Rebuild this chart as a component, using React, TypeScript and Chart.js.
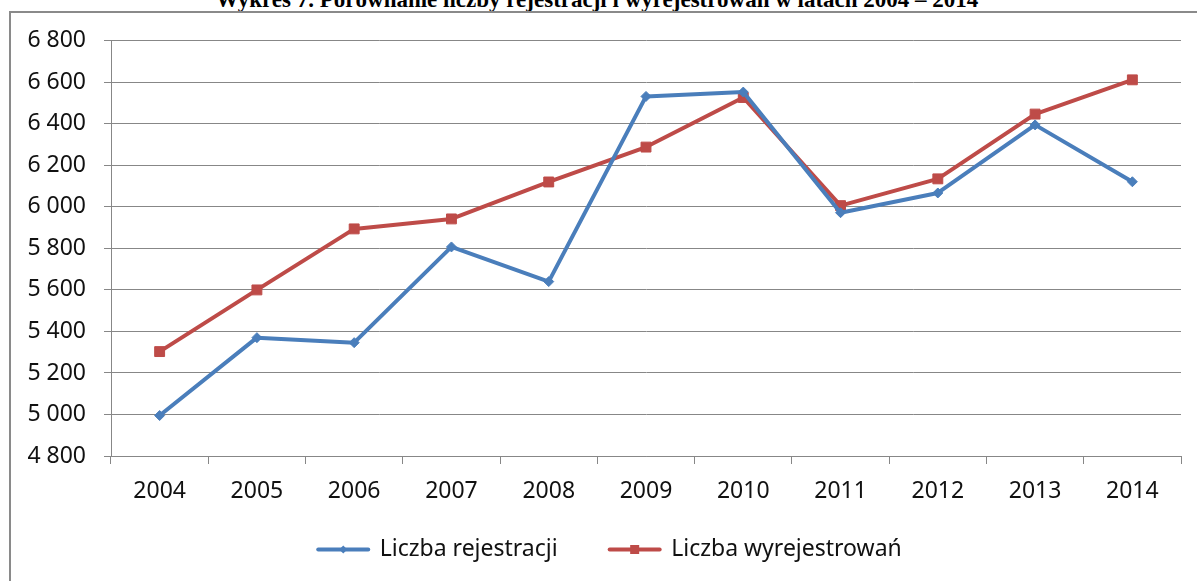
import React, { useEffect, useRef } from "react";
import { Chart, registerables } from "chart.js";

Chart.register(...registerables);

const years = ["2004", "2005", "2006", "2007", "2008", "2009", "2010", "2011", "2012", "2013", "2014"];
const rejestracje = [4995, 5370, 5346, 5807, 5640, 6532, 6553, 5972, 6067, 6395, 6121];
const wyrejestrowania = [5303, 5600, 5894, 5942, 6120, 6288, 6527, 6006, 6135, 6447, 6612];
const seriesNames = ["Liczba rejestracji", "Liczba wyrejestrowań"];
const titleText = "Wykres 7. Porównanie liczby rejestracji i wyrejestrowań w latach 2004 – 2014";

const BLUE = "#4a7ebb";
const RED = "#be4b48";
const GRID = "#878787";
const FONT = "'Noto Sans', 'Open Sans', sans-serif";

const fmt = (v: number) => {
  const s = String(Math.round(v));
  return s.replace(/\B(?=(\d{3})+(?!\d))/g, " ");
};

const legendMarkers = {
  id: "legendMarkers",
  afterDraw(chart: any) {
    const lg = chart.legend;
    if (!lg || !lg.legendHitBoxes) return;
    const ctx = chart.ctx;
    const bw = lg.options.labels.pointStyleWidth || 50;
    lg.legendHitBoxes.forEach((hb: any, i: number) => {
      const cx = hb.left + bw / 2;
      const cy = hb.top + hb.height / 2;
      ctx.save();
      if (i === 0) {
        ctx.fillStyle = BLUE;
        ctx.beginPath();
        ctx.moveTo(cx, cy - 4);
        ctx.lineTo(cx + 4, cy);
        ctx.lineTo(cx, cy + 4);
        ctx.lineTo(cx - 4, cy);
        ctx.closePath();
        ctx.fill();
      } else {
        ctx.fillStyle = RED;
        ctx.fillRect(cx - 4.5, cy - 4.5, 9, 9);
      }
      ctx.restore();
    });
  },
};

const noLabelClip = (s: any) => {
  s._computeLabelArea = () => undefined;
};

export default function App() {
  const ref = useRef<HTMLCanvasElement | null>(null);

  useEffect(() => {
    if (!ref.current) return;
    const chart = new Chart(ref.current, {
      type: "line",
      data: {
        labels: years,
        datasets: [
          {
            label: seriesNames[0],
            data: rejestracje,
            borderColor: BLUE,
            backgroundColor: BLUE,
            borderWidth: 4,
            borderCapStyle: "round",
            borderJoinStyle: "round",
            pointStyle: "rectRot",
            pointRadius: 5,
            pointBorderWidth: 1,
            pointBackgroundColor: BLUE,
            pointBorderColor: BLUE,
            tension: 0,
          },
          {
            label: seriesNames[1],
            data: wyrejestrowania,
            borderColor: RED,
            backgroundColor: RED,
            borderWidth: 4,
            borderCapStyle: "round",
            borderJoinStyle: "round",
            pointStyle: "rect",
            pointRadius: 7,
            pointBorderWidth: 1,
            pointBackgroundColor: RED,
            pointBorderColor: RED,
            tension: 0,
          },
        ],
      },
      options: {
        animation: false,
        responsive: false,
        maintainAspectRatio: false,
        layout: { padding: { left: 28, top: 25, right: 16, bottom: 0 } },
        plugins: {
          title: { display: false },
          tooltip: { enabled: false },
          legend: {
            position: "bottom",
            labels: {
              usePointStyle: true,
              pointStyle: "line",
              pointStyleWidth: 50,
              padding: 52,
              color: "#111",
              font: { family: FONT, size: 23 },
              generateLabels: (c: any) => {
                const items = Chart.defaults.plugins.legend.labels.generateLabels(c);
                return items.map((it: any, i: number) => ({
                  ...it,
                  lineWidth: 4,
                  lineCap: "round",
                  strokeStyle: i === 0 ? BLUE : RED,
                  fillStyle: i === 0 ? BLUE : RED,
                  pointStyle: "line",
                }));
              },
            },
          },
        },
        scales: {
          x: {
            offset: true,
            grid: {
              offset: true,
              drawOnChartArea: false,
              drawTicks: true,
              tickLength: 8,
              color: GRID,
            },
            border: { color: GRID, width: 1 },
            ticks: { color: "#111", padding: 14, font: { family: FONT, size: 23 }, maxRotation: 0 },
            afterFit: (s: any) => {
              s.height = 30;
              noLabelClip(s);
            },
          },
          y: {
            min: 4800,
            max: 6800,
            grid: { color: GRID, tickLength: 7, lineWidth: 1 },
            border: { color: GRID, width: 1 },
            ticks: {
              stepSize: 200,
              color: "#111",
              padding: 18,
              font: { family: FONT, size: 23 },
              callback: (v: any) => fmt(Number(v)),
            },
            afterFit: (s: any) => {
              s.width = 72;
              noLabelClip(s);
            },
          },
        },
      },
      plugins: [legendMarkers],
    });
    return () => chart.destroy();
  }, []);

  return (
    <div
      style={{
        position: "fixed",
        left: 0,
        top: 0,
        width: 1197,
        height: 581,
        overflow: "hidden",
        background: "#fff",
      }}
    >
      <div
        style={{
          position: "absolute",
          left: 0,
          top: -10,
          width: 1194,
          textAlign: "center",
          fontFamily: "'Liberation Serif', 'Times New Roman', serif",
          fontWeight: "bold",
          fontSize: 23,
          lineHeight: "20px",
          whiteSpace: "nowrap",
          color: "#000",
        }}
      >
        {titleText}
      </div>
      <div
        style={{
          position: "absolute",
          left: 9,
          top: 11,
          width: 1300,
          height: 700,
          borderTop: "2px solid #8a8a8a",
          borderLeft: "2px solid #8a8a8a",
          boxSizing: "border-box",
        }}
      />
      <canvas
        ref={ref}
        width={1186}
        height={562}
        style={{ position: "absolute", left: 11, top: 9, width: 1186, height: 562 }}
      />
    </div>
  );
}
